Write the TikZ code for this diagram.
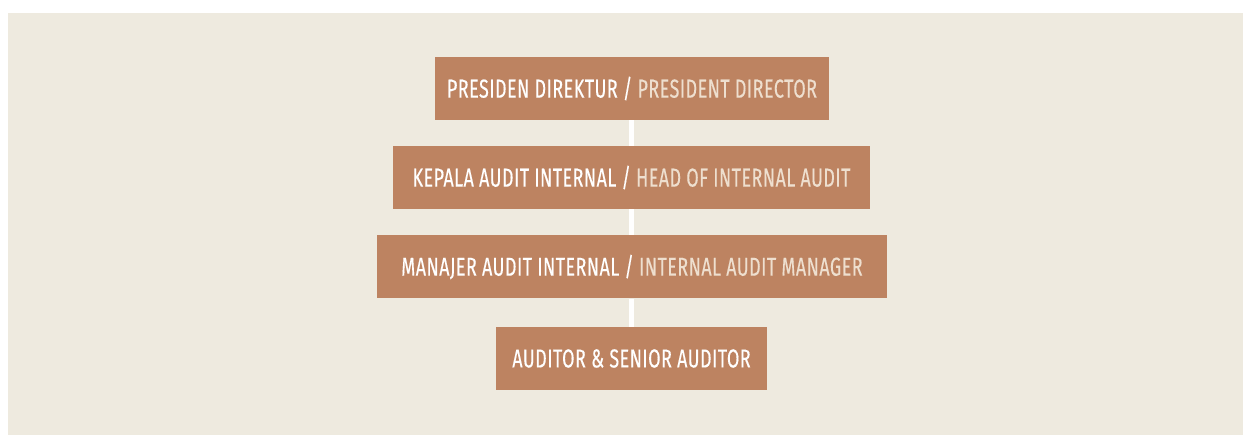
\documentclass[tikz,border=0pt]{standalone}
\usepackage{fontspec}
\setmainfont{Fira Sans}[FakeStretch=0.69, FakeBold=0.25, LetterSpace=1.8]
\definecolor{bgc}{HTML}{EEEADF}
\definecolor{boxc}{HTML}{BD8361}
\definecolor{engc}{HTML}{EEDFCF}
\begin{document}
\begin{tikzpicture}[x=1pt,y=-1pt,
  rolebox/.style={fill=boxc, inner sep=0pt, text=white, font=\fontsize{26}{29}\selectfont, minimum height=63pt, anchor=center},
  link/.style={draw=white, line width=5pt}]
\useasboundingbox (0,0) rectangle (1243,435);
\fill[white] (0,0) rectangle (1243,435);
\fill[bgc] (8,13) rectangle (1243,435);
\node[rolebox, minimum width=394pt] (p) at (632,88.5) {PRESIDEN DIREKTUR / \textcolor{engc}{PRESIDENT DIRECTOR}};
\node[rolebox, minimum width=477pt] (k) at (631.5,177.5) {KEPALA AUDIT INTERNAL / \textcolor{engc}{HEAD OF INTERNAL AUDIT}};
\node[rolebox, minimum width=510pt] (m) at (632,267) {MANAJER AUDIT INTERNAL / \textcolor{engc}{INTERNAL AUDIT MANAGER}};
\node[rolebox, minimum width=271pt] (a) at (631.5,358.5) {AUDITOR \& SENIOR AUDITOR};
\draw[link] ([xshift=-1pt]p.south) -- ([xshift=-0.5pt]k.north);
\draw[link] ([xshift=-0.5pt]k.south) -- ([xshift=-1pt]m.north);
\draw[link] ([xshift=-1pt]m.south) -- ([xshift=-0.5pt]a.north);
\end{tikzpicture}
\end{document}
